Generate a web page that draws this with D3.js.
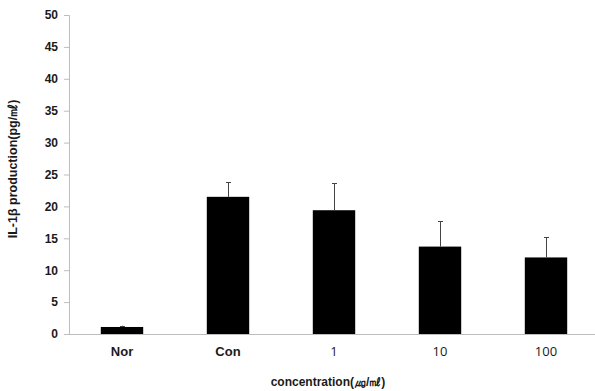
<!DOCTYPE html>
<html>
<head>
<meta charset="utf-8">
<script src="https://cdn.jsdelivr.net/npm/d3@7"></script>
<style>
  body { margin: 0; background: #fff; }
  svg { display: block; }
</style>
</head>
<body>
<div id="chart"></div>
<script>
const categories = ['Nor', 'Con', '1', '10', '100'];
const values = [1.1, 21.5, 19.4, 13.7, 12.0];
const errors = [0.2, 2.3, 4.2, 4.0, 3.2];
const yTicks = [0, 5, 10, 15, 20, 25, 30, 35, 40, 45, 50];

const width = 595,
  height = 391;
const margin = { top: 15, right: 0, bottom: 57, left: 69 };

const svg = d3
  .select('#chart')
  .append('svg')
  .attr('width', width)
  .attr('height', height);

const x = d3
  .scaleBand()
  .domain(categories)
  .range([margin.left, margin.left + 530])
  .paddingInner(0.6)
  .paddingOuter(0.3);

const y = d3
  .scaleLinear()
  .domain([0, 50])
  .range([height - margin.bottom, margin.top]);

// y axis
const yAxis = svg
  .append('g')
  .attr('transform', 'translate(' + margin.left + ',0)')
  .call(d3.axisLeft(y).tickValues(yTicks).tickSize(5).tickPadding(6));
yAxis.select('.domain').attr('stroke', '#bdbdbd');
yAxis.selectAll('.tick line').attr('stroke', '#bdbdbd');
yAxis
  .selectAll('.tick text')
  .attr('fill', '#1a1a1a')
  .style('font-family', 'Liberation Sans, Arial, sans-serif')
  .style('font-weight', 'bold')
  .style('font-size', '12px');

// bars
svg
  .append('g')
  .selectAll('rect')
  .data(categories)
  .enter()
  .append('rect')
  .attr('x', d => x(d))
  .attr('width', x.bandwidth())
  .attr('y', (d, i) => y(values[i]))
  .attr('height', (d, i) => y(0) - y(values[i]))
  .attr('fill', '#000');

// error bars (upper only)
const err = svg.append('g').attr('stroke', '#444').attr('stroke-width', 1);
categories.forEach((d, i) => {
  const cx = Math.round(x(d) + x.bandwidth() / 2) + 0.5;
  err
    .append('line')
    .attr('x1', cx)
    .attr('x2', cx)
    .attr('y1', y(values[i]))
    .attr('y2', y(values[i] + errors[i]));
  err
    .append('line')
    .attr('x1', cx - 2.5)
    .attr('x2', cx + 2.5)
    .attr('y1', Math.round(y(values[i] + errors[i])) + 0.5)
    .attr('y2', Math.round(y(values[i] + errors[i])) + 0.5);
});

// x axis
const xAxis = svg
  .append('g')
  .attr('transform', 'translate(0,' + y(0) + ')')
  .call(d3.axisBottom(x).tickSize(0).tickPadding(13));
xAxis.select('.domain').attr('stroke', '#bdbdbd').attr('d', 'M' + margin.left + ',0.5H' + width);
xAxis
  .selectAll('.tick text')
  .attr('fill', '#1a1a1a')
  .style('font-family', d => (isNaN(+d) ? 'Liberation Sans, Arial, sans-serif' : 'Open Sans, sans-serif'))
  .style('font-weight', d => (isNaN(+d) ? 'bold' : 'normal'))
  .style('font-size', '13px');

// axis titles
svg
  .append('text')
  .attr('x', 328)
  .attr('y', 386)
  .attr('text-anchor', 'middle')
  .attr('fill', '#1a1a1a')
  .style('font-family', 'Liberation Sans, Arial, sans-serif')
  .style('font-weight', 'bold')
  .style('font-size', '12px')
  .text('concentration(㎍/㎖)');

svg
  .append('text')
  .attr('transform', 'translate(17,169) rotate(-90)')
  .attr('text-anchor', 'middle')
  .attr('fill', '#1a1a1a')
  .style('font-family', 'Liberation Sans, Arial, sans-serif')
  .style('font-weight', 'bold')
  .style('font-size', '12.5px')
  .text('IL-1β production(pg/㎖)');
</script>
</body>
</html>
